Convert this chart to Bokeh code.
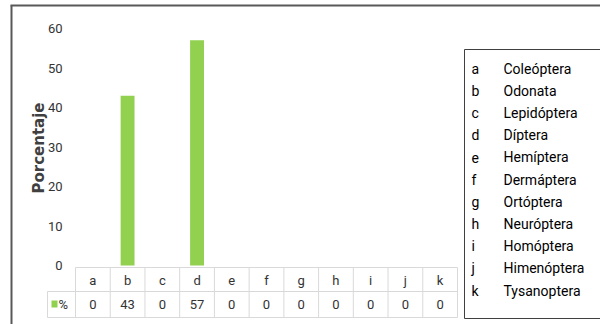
from bokeh.plotting import figure
from bokeh.models import Range1d, FixedTicker, ColumnDataSource
from bokeh.core.properties import value
from bokeh.embed import file_html
from bokeh.resources import INLINE

# ---- data ----
categories = ["a", "b", "c", "d", "e", "f", "g", "h", "i", "j", "k"]
percent = [0, 43, 0, 57, 0, 0, 0, 0, 0, 0, 0]
order_names = ["Coleóptera", "Odonata", "Lepidóptera", "Díptera", "Hemíptera",
               "Dermáptera", "Ortóptera", "Neuróptera", "Homóptera",
               "Himenóptera", "Tysanoptera"]
y_ticks = [0, 10, 20, 30, 40, 50, 60]
series_name = "%"
y_title = "Porcentaje"

NARROW = "Roboto"
GREEN = "#92d050"
TXT = "#333333"

W, H = 600, 324
FL, FR, FT, FB = 75, 457, 28, 267   # frame edges in px
n = len(categories)
xpos = [i + 0.5 for i in range(n)]   # category slot centres

p = figure(width=W, height=H, x_range=Range1d(0, n),
           y_range=Range1d(-0.5, 60), output_backend="svg", toolbar_location=None,
           min_border_left=FL, min_border_right=W - FR, min_border_top=FT,
           min_border_bottom=H - FB)
p.outline_line_color = None
p.xgrid.visible = False
p.ygrid.visible = False
p.background_fill_color = "white"
p.border_fill_color = "white"

# pixel-like helper ranges for table / key decoration
p.extra_x_ranges = {"px": Range1d(FL, FR)}
p.extra_y_ranges = {"py": Range1d(FB, FT)}

# axes
ya = p.yaxis[0]
ya.ticker = FixedTicker(ticks=y_ticks)
ya.axis_line_color = None
ya.major_tick_line_color = None
ya.minor_tick_line_color = None
ya.major_label_standoff = 7
ya.major_label_text_font = NARROW
ya.major_label_text_font_size = "13px"
ya.major_label_text_color = TXT
ya.axis_label = y_title
ya.axis_label_text_font = "DejaVu Sans"
ya.axis_label_text_font_style = "bold"
ya.axis_label_text_font_size = "15px"
ya.axis_label_text_color = "#404040"
ya.axis_label_standoff = -3

xa = p.xaxis[0]
xa.ticker = FixedTicker(ticks=xpos)
xa.major_label_overrides = {x: c for x, c in zip(xpos, categories)}
xa.axis_line_color = None
xa.major_tick_line_color = None
xa.minor_tick_line_color = None
xa.major_label_standoff = -1
xa.major_label_text_font = NARROW
xa.major_label_text_font_size = "13px"
xa.major_label_text_color = TXT

# bars
src = ColumnDataSource(dict(x=xpos, pct=percent, lbl=[str(v) for v in percent]))
p.vbar(x="x", top="pct", width=0.4, source=src, fill_color=GREEN, line_color=None)

# ---- data table below the plot ----
grid = "#d9d9d9"
edges = list(range(n + 1))
p.segment(x0=edges, y0=[267] * (n + 1), x1=edges, y1=[317] * (n + 1),
          y_range_name="py", line_color=grid, line_width=1, level="overlay")
p.segment(x0=[FL, 47, 47, 47], y0=[267, 291, 317, 291], x1=[FR, FR, FR, 47], y1=[267, 291, 317, 317],
          x_range_name="px", y_range_name="py", line_color=grid, line_width=1, level="overlay")
p.text(x="x", y=304, text="lbl", source=src, y_range_name="py",
       text_align="center", text_baseline="middle", text_font=value(NARROW),
       text_font_size="13px", text_color=TXT, level="overlay")
p.quad(left=[51], right=[57], top=[300], bottom=[307], x_range_name="px", y_range_name="py",
       fill_color=GREEN, line_color=None, level="overlay")
p.text(x=[58], y=[304], text=[series_name], x_range_name="px", y_range_name="py",
       text_align="left", text_baseline="middle", text_font=value(NARROW),
       text_font_size="13px", text_color=TXT, level="overlay")

# ---- key box on the right (its right side runs past the picture) ----
p.segment(x0=[464, 464, 464], y0=[49, 318, 49], x1=[W + 20, W + 20, 464], y1=[49, 318, 318],
          x_range_name="px", y_range_name="py", line_color="#404040", line_width=1, level="overlay")
rows_y = [68 + 22.2 * i for i in range(n)]
p.text(x=[471] * n, y=rows_y, text=categories, x_range_name="px", y_range_name="py",
       text_align="left", text_baseline="middle", text_font=value(NARROW),
       text_font_size="14px", text_color="#000000", level="overlay")
p.text(x=[503] * n, y=rows_y, text=order_names, x_range_name="px", y_range_name="py",
       text_align="left", text_baseline="middle", text_font=value(NARROW),
       text_font_size="14px", text_color="#000000", level="overlay")

# outer chart border (only top and left sides are inside the picture)
p.segment(x0=[10, 11], y0=[5, 5], x1=[W + 20, 11], y1=[5, H + 20],
          x_range_name="px", y_range_name="py", line_color="#595959", line_width=2, level="overlay")

open("out.html", "w").write(file_html(p, INLINE))
